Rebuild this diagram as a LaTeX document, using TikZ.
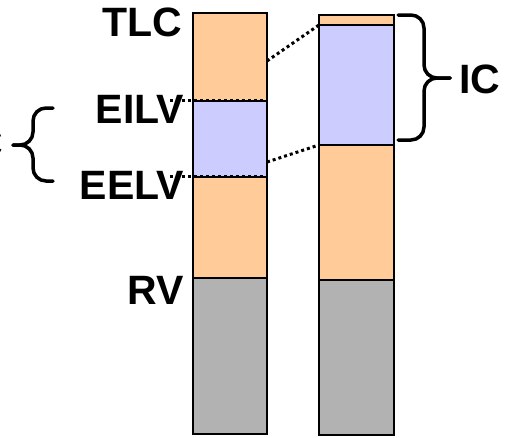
\documentclass[tikz,border=0pt]{standalone}
\usepackage{fontspec}
\setmainfont{Liberation Sans}
\usepackage{tikz}
\definecolor{VolOrange}{HTML}{FFCC99}
\definecolor{VolBlue}{HTML}{CCCCFF}
\definecolor{VolGray}{HTML}{B2B2B2}

\begin{document}
\begin{tikzpicture}[x=1pt,y=-1pt,
  block/.style={draw=black,line width=1.5pt},
  dots/.style={line width=3pt,dash pattern=on 3pt off 3pt},
  lbl/.style={font=\fontsize{41}{44}\selectfont\bfseries,inner sep=0pt},
  curly/.style={line width=3.5pt,rounded corners=13pt,line cap=round}
]
\useasboundingbox (0,0) rectangle (510,437);
% left column
\draw[block,fill=VolOrange] (193,13) rectangle (267,101);
\draw[block,fill=VolBlue] (193,101) rectangle (267,177);
\draw[block,fill=VolOrange] (193,177) rectangle (267,278);
\draw[block,fill=VolGray] (193,278) rectangle (267,434);
% right column
\draw[block,fill=VolOrange] (319,15) rectangle (394,25);
\draw[block,fill=VolBlue] (319,25) rectangle (394,145);
\draw[block,fill=VolOrange] (319,145) rectangle (394,280);
\draw[block,fill=VolGray] (319,280) rectangle (394,435);

\coordinate (tlcR) at (267,61);
\coordinate (eelvR) at (267,162);
\coordinate (icTop) at (319,25);
\coordinate (icBot) at (319,145);
\coordinate (eilvL) at (170,100);
\coordinate (eilvR) at (267,100);
\coordinate (eelvL) at (170,176);
\coordinate (eelvE) at (267,176);

\node[lbl,anchor=east] (tlc) at (182,22) {TLC};
\node[lbl,anchor=east] (eilv) at (184,109) {EILV};
\node[lbl,anchor=east] (eelv) at (184,185) {EELV};
\node[lbl,anchor=east] (rv) at (184,290) {RV};
\node[lbl,anchor=west] (ic) at (459,79) {IC};
\node[lbl,anchor=east] (vt) at (3,143) {C};

\draw[dots] (eilvL) -- (eilvR);
\draw[dots] (eelvL) -- (eelvE);
\draw[dots] (tlcR) -- (icTop);
\draw[dots] (eelvR) -- (icBot);

% braces
\draw[curly] (53,108) -- (33,108) -- (33,145) -- (13,145);
\draw[curly] (53,181) -- (33,181) -- (33,145) -- (13,145);
\draw[curly] (398,15) -- (424,15) -- (424,78) -- (450,78);
\draw[curly] (398,140) -- (424,140) -- (424,78) -- (450,78);
\end{tikzpicture}
\end{document}
